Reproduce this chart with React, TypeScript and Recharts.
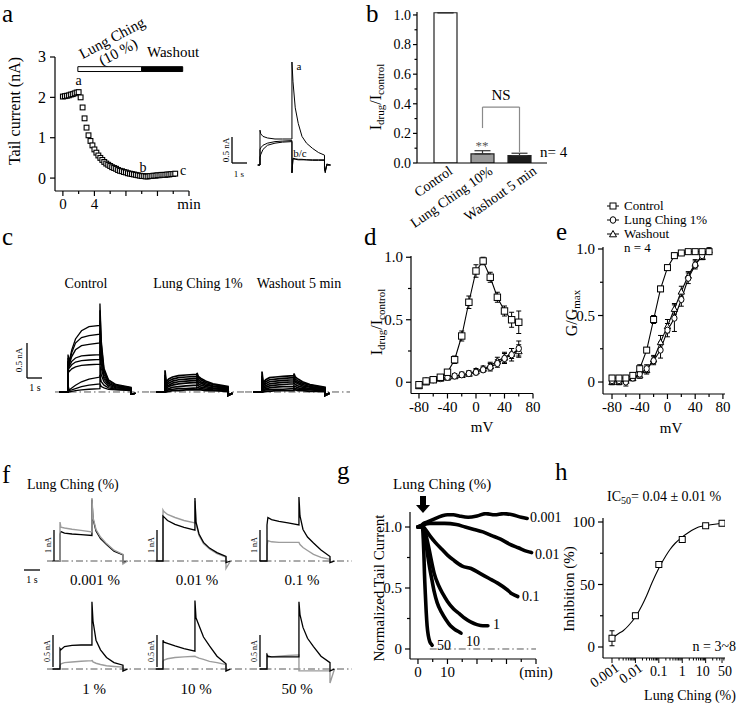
import React from 'react';
import {
  ComposedChart, LineChart, BarChart, Line, Bar, Cell, XAxis, YAxis,
  ErrorBar, ReferenceLine, ReferenceArea,
} from 'recharts';

const SERIF = "'Liberation Serif', 'Times New Roman', serif";
const GRAY = '#9c9c9c';

// ---------- Panel a : tail current time course ----------
const A_T = [0,0.25,0.5,0.75,1,1.25,1.5,1.75,2,2.25,2.5,2.75,3,3.25,3.5,3.75,4,4.25,4.5,4.75,5,5.25,5.5,5.75,6,6.25,6.5,6.75,7,7.25,7.5,7.75,8,8.25,8.5,8.75,9,9.25,9.5,9.75,10,10.25,10.5,10.75,11,11.25,11.5,11.75,12,12.25,12.5,12.75,13,13.25,13.5,13.75,14,14.25];
const A_I = [2.02,2.03,2.04,2.05,2.07,2.08,2.1,2.12,2.13,2.0,1.75,1.48,1.25,1.06,0.92,0.81,0.71,0.63,0.56,0.5,0.45,0.4,0.36,0.33,0.3,0.27,0.25,0.23,0.2,0.18,0.17,0.15,0.14,0.12,0.11,0.1,0.09,0.08,0.07,0.06,0.05,0.05,0.04,0.04,0.05,0.05,0.06,0.06,0.07,0.07,0.08,0.08,0.08,0.09,0.09,0.1,0.1,0.11];
const A_DRUG = [
  { from: 1.9, to: 10, fill: '#fff' },
  { from: 10, to: 15.2, fill: '#000' },
];
// inset traces (s, nA)
const AI_T = [-0.15,0,0,0.05,0.2,0.5,1.0,1.5,2.13,2.13,2.2,2.35,2.55,2.8,3.1,3.5,3.9,4.3,4.3,4.35,4.45,4.7];
const AI_A = [0,0,0.67,0.6,0.55,0.52,0.5,0.5,0.5,1.98,1.6,1.1,0.8,0.55,0.42,0.32,0.24,0.19,-0.05,-0.15,0.02,0];
const AI_B = [0,0,0.15,0.2,0.3,0.38,0.42,0.44,0.45,-0.15,0.12,0.11,0.1,0.1,0.1,0.09,0.09,0.09,-0.05,-0.12,0,0];
const AI_C = [0,0,0.3,0.33,0.38,0.42,0.45,0.46,0.47,-0.15,0.13,0.12,0.11,0.11,0.1,0.1,0.1,0.1,-0.05,-0.12,0,0];

// ---------- Panel b : bars ----------
const B_CAT = ['Control', 'Lung Ching 10%', 'Washout 5 min'];
const B_VAL = [1.015, 0.061, 0.05];
const B_ERR = [0, 0.022, 0.016];
const B_FILL = ['#ffffff', '#9a9a9a', '#1c1c1c'];
const B_BRACKET = [
  { x: 'Lung Ching 10%', y: 0.236 },
  { x: 'Lung Ching 10%', y: 0.378 },
  { x: 'Washout 5 min', y: 0.378 },
  { x: 'Washout 5 min', y: 0.074 },
];

// ---------- Panel c : current families ----------
const C_T = [-0.6,0,0,0.08,0.25,0.5,0.9,1.4,2.13,2.13,2.22,2.4,2.7,3.2,4.2,4.2,4.5];
const C_CTL = [
  [0,0,0.55,0.45,0.62,0.78,0.9,0.96,0.98,1.3,0.75,0.35,0.18,0.11,0.07,-0.03,-0.02],
  [0,0,0.5,0.42,0.58,0.72,0.8,0.83,0.85,1.2,0.7,0.32,0.17,0.1,0.06,-0.03,-0.02],
  [0,0,0.45,0.4,0.52,0.62,0.68,0.7,0.72,1.05,0.6,0.3,0.15,0.09,0.06,-0.03,-0.02],
  [0,0,0.45,0.38,0.45,0.5,0.53,0.54,0.55,0.9,0.5,0.26,0.13,0.08,0.05,-0.03,-0.02],
  [0,0,0.4,0.35,0.4,0.44,0.46,0.47,0.48,0.75,0.42,0.22,0.12,0.07,0.05,-0.03,-0.02],
  [0,0,0.35,0.3,0.34,0.37,0.39,0.4,0.41,0.6,0.35,0.19,0.1,0.06,0.04,-0.03,-0.02],
  [0,0,0.1,0.03,0.06,0.1,0.15,0.19,0.22,0.4,0.25,0.15,0.08,0.05,0.03,-0.03,-0.02],
  [0,0,0.05,0.02,0.03,0.05,0.08,0.1,0.12,0.25,0.15,0.1,0.06,0.04,0.03,-0.03,-0.02],
  [0,0,0.02,0,0.01,0.02,0.03,0.04,0.05,0.12,0.08,0.06,0.04,0.03,0.02,-0.03,-0.02],
];
const C_LC = [
  [0,0,0.32,0.15,0.19,0.22,0.24,0.25,0.26,0.28,0.23,0.2,0.16,0.12,0.08,-0.05,-0.02],
  [0,0,0.25,0.12,0.16,0.19,0.21,0.22,0.23,0.25,0.21,0.18,0.14,0.11,0.07,-0.05,-0.02],
  [0,0,0.2,0.1,0.13,0.16,0.18,0.19,0.2,0.22,0.18,0.15,0.12,0.09,0.06,-0.05,-0.02],
  [0,0,0.15,0.08,0.1,0.13,0.15,0.16,0.17,0.19,0.15,0.13,0.1,0.08,0.05,-0.05,-0.02],
  [0,0,0.12,0.06,0.08,0.1,0.12,0.13,0.14,0.15,0.12,0.1,0.08,0.06,0.04,-0.05,-0.02],
  [0,0,0.08,0.04,0.05,0.07,0.08,0.09,0.1,0.11,0.09,0.07,0.06,0.05,0.03,-0.05,-0.02],
  [0,0,0.05,0.02,0.03,0.04,0.05,0.05,0.06,0.07,0.06,0.05,0.04,0.03,0.02,-0.05,-0.02],
  [0,0,0.02,0,0.01,0.02,0.02,0.03,0.03,0.04,0.03,0.03,0.02,0.02,0.01,-0.05,-0.02],
];
const C_WO = [
  [0,0,0.3,0.14,0.18,0.21,0.22,0.23,0.24,0.27,0.22,0.19,0.15,0.11,0.07,-0.05,-0.02],
  [0,0,0.24,0.11,0.15,0.18,0.19,0.2,0.21,0.23,0.19,0.16,0.13,0.1,0.06,-0.05,-0.02],
  [0,0,0.19,0.09,0.12,0.15,0.16,0.17,0.18,0.2,0.16,0.14,0.11,0.08,0.05,-0.05,-0.02],
  [0,0,0.14,0.07,0.09,0.12,0.13,0.14,0.15,0.17,0.14,0.12,0.09,0.07,0.05,-0.05,-0.02],
  [0,0,0.11,0.05,0.07,0.09,0.1,0.11,0.12,0.13,0.11,0.09,0.07,0.05,0.04,-0.05,-0.02],
  [0,0,0.07,0.03,0.05,0.06,0.07,0.08,0.08,0.09,0.08,0.06,0.05,0.04,0.03,-0.05,-0.02],
  [0,0,0.04,0.02,0.03,0.03,0.04,0.04,0.05,0.06,0.05,0.04,0.03,0.03,0.02,-0.05,-0.02],
  [0,0,0.02,0,0.01,0.01,0.02,0.02,0.02,0.03,0.03,0.02,0.02,0.01,0.01,-0.05,-0.02],
];

// ---------- Panel d : I-V ----------
const D_V = [-80,-70,-60,-50,-40,-30,-20,-10,0,10,20,30,40,50,60];
const D_CTL = [-0.02,0.01,0.02,0.04,0.08,0.18,0.37,0.64,0.89,0.97,0.84,0.68,0.57,0.5,0.48];
const D_CTL_E = [0.02,0.02,0.02,0.02,0.02,0.03,0.04,0.05,0.05,0.03,0.04,0.04,0.04,0.06,0.09];
const D_LC = [-0.02,0.01,0.02,0.03,0.04,0.05,0.06,0.07,0.08,0.1,0.12,0.15,0.19,0.22,0.27];
const D_LC_E = [0.02,0.01,0.01,0.01,0.02,0.02,0.02,0.02,0.02,0.02,0.03,0.03,0.04,0.05,0.06];
const D_WO = [-0.03,0,0.02,0.03,0.04,0.05,0.06,0.07,0.09,0.11,0.13,0.17,0.2,0.23,0.25];
const D_WO_E = [0.02,0.01,0.01,0.01,0.02,0.02,0.02,0.02,0.02,0.02,0.03,0.03,0.04,0.04,0.05];

// ---------- Panel e : activation ----------
const E_V = [-80,-70,-60,-50,-40,-30,-20,-10,0,10,20,30,40,50,60];
const E_CTL = [0.03,0.03,0.03,0.05,0.1,0.24,0.47,0.7,0.86,0.95,0.97,0.98,0.98,0.98,0.98];
const E_CTL_E = [0.02,0.02,0.02,0.02,0.03,0.02,0.03,0.02,0.02,0.02,0.01,0.01,0.01,0.01,0.01];
const E_LC = [0.01,0.01,0,0.03,0.06,0.1,0.16,0.24,0.39,0.48,0.62,0.78,0.88,0.95,0.98];
const E_LC_E = [0.02,0.02,0.03,0.02,0.03,0.03,0.03,0.06,0.05,0.1,0.05,0.04,0.03,0.02,0.02];
const E_WO = [0,0,0.01,0.03,0.05,0.09,0.17,0.3,0.42,0.55,0.68,0.8,0.89,0.94,0.99];
const E_WO_E = [0.02,0.02,0.02,0.02,0.02,0.03,0.03,0.05,0.05,0.04,0.04,0.03,0.03,0.02,0.02];

// ---------- Panel f : concentration traces ----------
const F_T = [-0.5,0,0,0.06,0.3,0.8,1.4,2.13,2.13,2.2,2.4,2.7,3.1,3.6,4.2,4.2,4.5];
const F_LABELS = ['0.001 %', '0.01 %', '0.1 %', '1 %', '10 %', '50 %'];
const F_BLACK = [
  [0,0,0.9,0.98,0.93,0.9,0.88,0.85,2.05,1.4,1.0,0.75,0.55,0.33,0.2,-0.05,0],
  [0,0,1.5,1.47,1.35,1.22,1.12,1.03,2.1,1.3,0.9,0.62,0.43,0.28,0.15,-0.05,0],
  [0,0,1.2,1.45,1.38,1.32,1.27,1.2,2.13,1.5,1.05,0.8,0.6,0.37,0.15,-0.05,0],
  [0,0,0.32,0.3,0.35,0.37,0.375,0.375,1.05,0.75,0.45,0.3,0.18,0.1,0.06,-0.03,0],
  [0,0,0.45,0.42,0.4,0.36,0.32,0.28,1.07,0.8,0.68,0.5,0.36,0.2,0.08,-0.03,0],
  [0,0,0.22,0.2,0.19,0.19,0.19,0.19,1.05,0.85,0.65,0.48,0.35,0.2,0.1,-0.03,0],
];
const F_GRAY = [
  [0,0,1.3,1.13,1.1,1.06,1.02,0.97,2.1,1.45,1.05,0.8,0.58,0.36,0.22,-0.1,0],
  [0,0,1.7,1.65,1.55,1.45,1.35,1.27,2.0,1.25,0.85,0.58,0.4,0.25,0.13,-0.25,0],
  [0,0,0.5,0.68,0.64,0.62,0.62,0.62,0.62,0.55,0.45,0.35,0.22,0.12,0.06,-0.05,0],
  [0,0,0.05,0.08,0.1,0.11,0.12,0.13,0.14,0.11,0.09,0.07,0.05,0.04,0.03,-0.03,0],
  [0,0,0.12,0.14,0.16,0.18,0.19,0.2,0.2,0.19,0.17,0.15,0.12,0.1,0.07,-0.03,0],
  [0,0,0.25,0.18,0.19,0.2,0.21,0.22,-0.03,-0.03,-0.03,-0.03,-0.03,-0.03,-0.03,-0.22,0],
];

// ---------- Panel g : time course per concentration ----------
const G_SERIES = [
  { label: '0.001', t: [0,1,2,3,5,8,10,12,14,17,20,23,26,29,32,35,37], v: [1.0,1.01,1.03,1.04,1.06,1.09,1.1,1.1,1.09,1.08,1.09,1.11,1.1,1.11,1.1,1.08,1.07] },
  { label: '0.01', t: [0,2,4,6,9,13,16,19,22,25,28,31,34,37,38.5], v: [1.0,1.02,1.03,1.03,1.03,1.02,1.0,0.98,0.96,0.93,0.9,0.86,0.83,0.8,0.79] },
  { label: '0.1', t: [0,1.5,2.5,4,6,8,10,12,15,18,21,24,27,30,32,33.8], v: [1.0,1.01,0.98,0.93,0.87,0.82,0.77,0.73,0.68,0.66,0.62,0.58,0.54,0.49,0.45,0.43] },
  { label: '1', t: [0,1.5,2.5,3.5,4.5,5.5,7,8.5,10,12,14,16,18,20,22,23.7], v: [1.0,1.0,0.95,0.85,0.73,0.62,0.52,0.45,0.39,0.33,0.29,0.25,0.22,0.2,0.19,0.19] },
  { label: '10', t: [0,1.5,2.2,2.8,3.4,4,4.7,5.5,6.5,8,9.5,11,12.5,14,14.6], v: [1.0,1.0,0.95,0.85,0.75,0.66,0.57,0.47,0.38,0.3,0.24,0.19,0.16,0.14,0.13] },
  { label: '50', t: [0,1.5,1.8,2.0,2.2,2.5,2.8,3.1,3.5,4,4.5,4.8], v: [1.0,1.0,0.9,0.78,0.62,0.45,0.3,0.19,0.11,0.06,0.04,0.03] },
];

// ---------- Panel h : concentration-response ----------
const H_C = [0.001, 0.01, 0.1, 1, 10, 50];
const H_INH = [7, 25, 66, 86, 97, 99];
const H_ERR = [6, 2, 2, 2, 1, 2];
const H_FIT_C = [0.0012,0.002,0.003,0.005,0.01,0.02,0.03,0.05,0.1,0.2,0.3,0.5,1,2,3,5,10,20,50];
const H_FIT = [8,11,13,17,24,34,41,51,63,73,78,83,88,92,94,96,97,98,99];

// ---------- helpers ----------
function frame(x0: number, y0: number, x1: number, y1: number, yw = 0, xh = 0, mt = 0, mr = 0) {
  return {
    style: { position: 'absolute' as const, left: x0 - yw, top: y0 - mt },
    width: yw + (x1 - x0) + mr,
    height: mt + (y1 - y0) + xh,
    margin: { top: mt, right: mr, bottom: 0, left: 0 },
  };
}

const near = (a: number, b: number) => Math.abs(a - b) <= 1e-9 * Math.max(1e-6, Math.abs(b));

const mkTick = (side: 'left' | 'bottom', major: number[], fmt: (v: number) => string, o: any = {}) => (p: any) => {
  const v = Number(p.payload.value);
  const isM = major.some((m) => near(v, m));
  const len = o.len ?? 5;
  const L = isM ? len : (o.mlen ?? 3);
  const lab = isM ? fmt(v) : '';
  const fs = o.fs ?? 14;
  const gap = o.gap ?? 3;
  if (side === 'left') {
    return (
      <g>
        <line x1={p.x} x2={p.x - L} y1={p.y} y2={p.y} stroke="#000" strokeWidth={1.2} />
        {lab !== '' && (
          <text x={p.x - len - gap} y={p.y} dy="0.34em" textAnchor="end" fontSize={fs} fontFamily={SERIF} fill="#000">{lab}</text>
        )}
      </g>
    );
  }
  return (
    <g>
      <line x1={p.x} x2={p.x} y1={p.y} y2={p.y + L} stroke="#000" strokeWidth={1.2} />
      {lab !== '' && (
        <text x={p.x} y={p.y + len + gap} dy="0.76em" textAnchor="middle" fontSize={fs} fontFamily={SERIF} fill="#000">{lab}</text>
      )}
    </g>
  );
};

const AX: any = {
  tickSize: 0,
  tickMargin: 0,
  tickLine: false,
  axisLine: { stroke: '#000', strokeWidth: 1.2 },
  interval: 0,
  allowDataOverflow: true,
};

const sqDot = (s: number, sw = 1) => (p: any) =>
  p.cx == null || p.cy == null || p.value == null ? <g key={p.index} /> :
  <rect key={p.index} x={p.cx - s} y={p.cy - s} width={2 * s} height={2 * s} fill="#fff" stroke="#000" strokeWidth={sw} />;
const ciDot = (s: number, sw = 1) => (p: any) =>
  p.cx == null || p.cy == null ? <g key={p.index} /> :
  <ellipse key={p.index} cx={p.cx} cy={p.cy} rx={s * 0.85} ry={s} fill="#fff" stroke="#000" strokeWidth={sw} />;
const trDot = (s: number, sw = 1) => (p: any) =>
  p.cx == null || p.cy == null ? <g key={p.index} /> :
  <polygon key={p.index} points={`${p.cx},${p.cy - s} ${p.cx - s},${p.cy + s * 0.8} ${p.cx + s},${p.cy + s * 0.8}`} fill="#fff" stroke="#000" strokeWidth={sw} />;

const rowsFrom = (t: number[], cols: Record<string, number[]>) =>
  t.map((tt, i) => {
    const r: any = { t: tt };
    Object.keys(cols).forEach((k) => { r[k] = cols[k][i]; });
    return r;
  });

function TraceChart({ f, xDomain, yDomain, rows, series, baseline }: any) {
  return (
    <div style={f.style}>
      <LineChart width={f.width} height={f.height} margin={f.margin} data={rows}>
        <XAxis type="number" dataKey="t" domain={xDomain} hide allowDataOverflow height={0} />
        <YAxis type="number" domain={yDomain} hide allowDataOverflow width={0} />
        {baseline && <ReferenceLine y={0} stroke="#444" strokeWidth={0.9} strokeDasharray="7 3 1.5 3" />}
        {series.map((s: any) => (
          <Line key={s.key} dataKey={s.key} stroke={s.color} strokeWidth={s.w ?? 1} dot={false}
            isAnimationActive={false} type="linear" />
        ))}
      </LineChart>
    </div>
  );
}

// ---------- Panels ----------
function PanelA() {
  const f = frame(55, 57, 189, 191, 42, 30, 20, 18);
  const rows = A_T.map((t, i) => ({ t, v: A_I[i] }));
  return (
    <div style={f.style}>
      <ComposedChart width={f.width} height={f.height} margin={f.margin} data={rows}>
        <XAxis {...AX} type="number" dataKey="t" domain={[-1, 16]} ticks={[0, 2, 4, 6, 8, 10, 12, 14, 16]}
          tick={mkTick('bottom', [0, 4, 8, 12, 16], (v) => (v === 0 ? '0' : v === 4 ? '4' : v === 16 ? 'min' : ''), { fs: 15, len: 5, mlen: 3, gap: 2 })} height={30} />
        <YAxis {...AX} type="number" domain={[-0.32, 3]} ticks={[0, 1, 2, 3]}
          tick={mkTick('left', [0, 1, 2, 3], (v) => String(v), { fs: 16, len: 5, gap: 4 })} width={42} />
        {A_DRUG.map((d, i) => (
          <ReferenceArea key={i} x1={d.from} x2={d.to} y1={2.64} y2={2.76} fill={d.fill} fillOpacity={1}
            stroke="#000" strokeWidth={1} ifOverflow="visible" />
        ))}
        <Line dataKey="v" stroke="none" dot={sqDot(2.4, 1.1)} isAnimationActive={false} />
      </ComposedChart>
    </div>
  );
}

function PanelAInset() {
  const f = frame(255, 55, 335, 180);
  const rows = rowsFrom(AI_T, { a: AI_A, b: AI_B, c: AI_C });
  return (
    <TraceChart f={f} xDomain={[-0.333, 5.0]} yDomain={[-0.288, 2.115]} rows={rows}
      series={[{ key: 'b', color: '#000' }, { key: 'c', color: '#000' }, { key: 'a', color: '#000' }]} />
  );
}

function PanelB() {
  const f = frame(417, 12, 547, 163, 37, 75, 5, 5);
  const rows = B_CAT.map((name, i) => ({ name, v: B_VAL[i], e: [0, B_ERR[i]] }));
  const yt = [0, 0.1, 0.2, 0.3, 0.4, 0.5, 0.6, 0.7, 0.8, 0.9, 1.0];
  const off = [8, 11, 18];
  const xTick = (p: any) => {
    const tx = p.x + off[p.index];
    const ty = p.y + 10;
    return (
      <text x={tx} y={ty} textAnchor="end" fontSize={14} fontFamily={SERIF} fill="#000"
        transform={`rotate(-35 ${tx} ${ty})`}>{p.payload.value}</text>
    );
  };
  return (
    <div style={f.style}>
      <BarChart width={f.width} height={f.height} margin={f.margin} data={rows}>
        <XAxis {...AX} allowDataOverflow={false} dataKey="name" type="category" padding={{ left: 10, right: 9 }} tick={xTick} height={75} />
        <YAxis {...AX} type="number" domain={[0, 1.02]} ticks={yt}
          tick={mkTick('left', [0, 0.2, 0.4, 0.6, 0.8, 1.0], (v) => v.toFixed(1), { fs: 14, len: 4, mlen: 2.5, gap: 2 })} width={37} />
        <Bar dataKey="v" barSize={23} stroke="#222" strokeWidth={1.2} isAnimationActive={false}>
          {rows.map((r, i) => <Cell key={i} fill={B_FILL[i]} />)}
          <ErrorBar dataKey="e" width={8} stroke="#333" strokeWidth={1.2} direction="y" />
        </Bar>
        {B_BRACKET.slice(0, 3).map((p, i) => (
          <ReferenceLine key={i} segment={[B_BRACKET[i], B_BRACKET[i + 1]]} stroke="#8a8a8a" strokeWidth={1.2} />
        ))}
      </BarChart>
    </div>
  );
}

function PanelC() {
  const yD = [-0.118, 1.426];
  const mk = (arr: number[][], p: string) => {
    const cols: Record<string, number[]> = {};
    arr.forEach((a, i) => { cols[p + i] = a; });
    return rowsFrom(C_T, cols);
  };
  const ser = (arr: number[][], p: string, w: number) => arr.map((_, i) => ({ key: p + i, color: '#000', w }));
  return (
    <>
      <TraceChart f={frame(55, 295, 150, 400)} xDomain={[-0.867, 5.467]} yDomain={yD} rows={mk(C_CTL, 'c')} series={ser(C_CTL, 'c', 1.3)} baseline />
      <TraceChart f={frame(150, 295, 245, 400)} xDomain={[-1.0, 5.333]} yDomain={yD} rows={mk(C_LC, 'l')} series={ser(C_LC, 'l', 1.7)} baseline />
      <TraceChart f={frame(245, 295, 350, 400)} xDomain={[-1.133, 5.867]} yDomain={yD} rows={mk(C_WO, 'w')} series={ser(C_WO, 'w', 1.7)} baseline />
    </>
  );
}

function PanelD() {
  const f = frame(411, 255.75, 533, 393.25, 36, 30, 8, 12);
  const rows = D_V.map((v, i) => ({ v, ctl: D_CTL[i], ctlE: D_CTL_E[i], lc: D_LC[i], lcE: D_LC_E[i], wo: D_WO[i], woE: D_WO_E[i] }));
  return (
    <div style={f.style}>
      <LineChart width={f.width} height={f.height} margin={f.margin} data={rows}>
        <XAxis {...AX} type="number" dataKey="v" domain={[-91.2, 80]} ticks={[-80, -60, -40, -20, 0, 20, 40, 60, 80]}
          tick={mkTick('bottom', [-80, -40, 0, 40, 80], (v) => String(v), { fs: 15, len: 5, mlen: 3, gap: 2 })} height={30} />
        <YAxis {...AX} type="number" domain={[-0.09, 1.01]} ticks={[0, 0.25, 0.5, 0.75, 1.0]}
          tick={mkTick('left', [0, 0.5, 1.0], (v) => (v === 0 ? '0' : v.toFixed(1)), { fs: 15, len: 5, mlen: 3, gap: 3 })} width={36} />
        <Line dataKey="wo" stroke="#000" strokeWidth={1.1} dot={trDot(3.4)} isAnimationActive={false} type="linear">
          <ErrorBar dataKey="woE" width={2.5} stroke="#000" strokeWidth={1} direction="y" />
        </Line>
        <Line dataKey="lc" stroke="#000" strokeWidth={1.1} dot={ciDot(3.2)} isAnimationActive={false} type="linear">
          <ErrorBar dataKey="lcE" width={2.5} stroke="#000" strokeWidth={1} direction="y" />
        </Line>
        <Line dataKey="ctl" stroke="#000" strokeWidth={1.1} dot={sqDot(3.2)} isAnimationActive={false} type="linear">
          <ErrorBar dataKey="ctlE" width={2.5} stroke="#000" strokeWidth={1} direction="y" />
        </Line>
      </LineChart>
    </div>
  );
}

function PanelE() {
  const f = frame(603, 247, 725, 394, 36, 30, 8, 12);
  const rows = E_V.map((v, i) => ({ v, ctl: E_CTL[i], ctlE: E_CTL_E[i], lc: E_LC[i], lcE: E_LC_E[i], wo: E_WO[i], woE: E_WO_E[i] }));
  return (
    <div style={f.style}>
      <LineChart width={f.width} height={f.height} margin={f.margin} data={rows}>
        <XAxis {...AX} type="number" dataKey="v" domain={[-93, 83]} ticks={[-80, -60, -40, -20, 0, 20, 40, 60, 80]}
          tick={mkTick('bottom', [-80, -40, 0, 40, 80], (v) => String(v), { fs: 15, len: 5, mlen: 3, gap: 2 })} height={30} />
        <YAxis {...AX} type="number" domain={[-0.09, 1.015]} ticks={[0, 0.25, 0.5, 0.75, 1.0]}
          tick={mkTick('left', [0, 0.5, 1.0], (v) => (v === 0 ? '0' : v.toFixed(1)), { fs: 15, len: 5, mlen: 3, gap: 3 })} width={36} />
        <Line dataKey="wo" stroke="#000" strokeWidth={1.1} dot={trDot(3.2)} isAnimationActive={false} type="linear">
          <ErrorBar dataKey="woE" width={2.5} stroke="#000" strokeWidth={1} direction="y" />
        </Line>
        <Line dataKey="lc" stroke="#000" strokeWidth={1.1} dot={ciDot(3.1)} isAnimationActive={false} type="linear">
          <ErrorBar dataKey="lcE" width={2.5} stroke="#000" strokeWidth={1} direction="y" />
        </Line>
        <Line dataKey="ctl" stroke="#000" strokeWidth={1.1} dot={sqDot(3)} isAnimationActive={false} type="linear">
          <ErrorBar dataKey="ctlE" width={2.5} stroke="#000" strokeWidth={1} direction="y" />
        </Line>
      </LineChart>
    </div>
  );
}

function PanelF() {
  const cols = [
    { x0: 47, x1: 148, on: 60 },
    { x0: 148, x1: 250, on: 163 },
    { x0: 250, x1: 352, on: 267 },
  ];
  const rowsY = [
    { y0: 492, y1: 575, base: 561, ppn: 30 },
    { y0: 598, y1: 685, base: 669, ppn: 64 },
  ];
  const pxs = 15;
  const out: any[] = [];
  rowsY.forEach((ry, r) => {
    cols.forEach((c, k) => {
      const i = r * 3 + k;
      const rows = rowsFrom(F_T, { b: F_BLACK[i], g: F_GRAY[i] });
      const xd = [(c.x0 - c.on) / pxs, (c.x1 - c.on) / pxs];
      const yd = [(ry.base - ry.y1) / ry.ppn, (ry.base - ry.y0) / ry.ppn];
      const series = i === 0
        ? [{ key: 'b', color: '#000', w: 1.3 }, { key: 'g', color: GRAY, w: 1.4 }]
        : [{ key: 'g', color: GRAY, w: 1.4 }, { key: 'b', color: '#000', w: 1.3 }];
      out.push(
        <TraceChart key={i} f={frame(c.x0, ry.y0, c.x1, ry.y1)} xDomain={xd} yDomain={yd} rows={rows} series={series} baseline />
      );
    });
  });
  return <>{out}</>;
}

function PanelG() {
  const f = frame(410, 512, 536, 659, 34, 30, 5, 20);
  return (
    <div style={f.style}>
      <LineChart width={f.width} height={f.height} margin={f.margin}>
        <XAxis {...AX} type="number" dataKey="t" domain={[-2.7, 40]} ticks={[0, 5, 10, 15, 20, 25, 30, 35, 40]}
          tick={mkTick('bottom', [0, 10, 20, 30, 40], (v) => (v === 0 ? '0' : v === 10 ? '10' : v === 40 ? '(min)' : ''), { fs: 15, len: 5, mlen: 3, gap: 2 })} height={30} />
        <YAxis {...AX} type="number" domain={[-0.082, 1.123]} ticks={[0, 0.25, 0.5, 0.75, 1.0]}
          tick={mkTick('left', [0, 0.5, 1.0], (v) => (v === 0 ? '0' : v.toFixed(1)), { fs: 15, len: 5, mlen: 3, gap: 3 })} width={34} />
        <ReferenceLine segment={[{ x: 4, y: 0 }, { x: 40, y: 0 }]} stroke="#444" strokeWidth={0.9} strokeDasharray="7 3 1.5 3" />
        {G_SERIES.map((s) => (
          <Line key={s.label} data={s.t.map((t, i) => ({ t, v: s.v[i] }))} dataKey="v" stroke="#000" strokeWidth={3.6}
            strokeLinecap="round" strokeLinejoin="round" dot={false} isAnimationActive={false} type="monotone" />
        ))}
      </LineChart>
    </div>
  );
}

const H_MAJOR = [0.001, 0.01, 0.1, 1, 10, 50];
const H_MAJOR_LABEL = ['0.001', '0.01', '0.1', '1', '10', '50'];
const H_LABEL_DX = [0, 0, 0, 0, -3, 3];
const H_TICKS = [0.001,0.002,0.003,0.004,0.005,0.006,0.007,0.008,0.009,0.01,0.02,0.03,0.04,0.05,0.06,0.07,0.08,0.09,0.1,0.2,0.3,0.4,0.5,0.6,0.7,0.8,0.9,1,2,3,4,5,6,7,8,9,10,20,30,40,50,60];

function PanelH() {
  const f = frame(603, 518, 725, 658, 34, 35, 5, 10);
  const pts = H_C.map((c, i) => ({ c, inh: H_INH[i], err: H_ERR[i] }));
  const fit = H_FIT_C.map((c, i) => ({ c, inh: H_FIT[i] }));
  const hTick = (p: any) => {
    const v = Number(p.payload.value);
    const i = H_MAJOR.findIndex((m) => near(v, m));
    const L = i >= 0 ? 5 : 2.5;
    let lab: any = null;
    if (i >= 0 && i < 2) {
      const tx = p.x + 8, ty = p.y + 12;
      lab = <text x={tx} y={ty} textAnchor="end" fontSize={14} fontFamily={SERIF} fill="#000" transform={`rotate(-35 ${tx} ${ty})`}>{H_MAJOR_LABEL[i]}</text>;
    } else if (i >= 2) {
      lab = <text x={p.x + H_LABEL_DX[i]} y={p.y + 7} dy="0.76em" textAnchor="middle" fontSize={14} fontFamily={SERIF} fill="#000">{H_MAJOR_LABEL[i]}</text>;
    }
    return <g><line x1={p.x} x2={p.x} y1={p.y} y2={p.y + L} stroke="#000" strokeWidth={1} />{lab}</g>;
  };
  return (
    <div style={f.style}>
      <ComposedChart width={f.width} height={f.height} margin={f.margin}>
        <XAxis {...AX} type="number" dataKey="c" scale="log" domain={[0.000413, 67]} ticks={H_TICKS} tick={hTick} height={35} />
        <YAxis {...AX} type="number" dataKey="inh" domain={[-8.8, 103.2]} ticks={[0, 25, 50, 75, 100]}
          tick={mkTick('left', [0, 50, 100], (v) => String(v), { fs: 15, len: 5, mlen: 3, gap: 3 })} width={34} />
        <Line data={fit} dataKey="inh" stroke="#000" strokeWidth={1.1} dot={false} isAnimationActive={false} type="monotone" />
        <Line data={pts} dataKey="inh" stroke="none" dot={sqDot(3)} isAnimationActive={false}>
          <ErrorBar dataKey="err" width={2.5} stroke="#000" strokeWidth={1} direction="y" />
        </Line>
      </ComposedChart>
    </div>
  );
}

// ---------- annotations ----------
const T = ({ x, y, s = 14, a = 'start', r, children, fill = '#000', db, w }: any) => (
  <text x={x} y={y} fontSize={s} textAnchor={a} fontFamily={SERIF} fill={fill} fontWeight={w}
    dominantBaseline={db} transform={r ? `rotate(${r} ${x} ${y})` : undefined}>{children}</text>
);

function SubLabel({ x, y, main1, sub1, main2, sub2, s = 16, ss = 11 }: any) {
  return (
    <text x={x} y={y} fontSize={s} textAnchor="middle" fontFamily={SERIF} fill="#000" transform={`rotate(-90 ${x} ${y})`}>
      {main1}<tspan fontSize={ss} dy={3}>{sub1}</tspan>
      {main2 != null && <tspan dy={-3}>{main2}</tspan>}
      {sub2 != null && <tspan fontSize={ss} dy={3}>{sub2}</tspan>}
    </text>
  );
}

function Overlay() {
  const L = { stroke: '#000', strokeWidth: 1.3 };
  return (
    <svg width={737} height={703} style={{ position: 'absolute', left: 0, top: 0, pointerEvents: 'none', fontFamily: SERIF }}>
      {/* panel letters */}
      <T x={2} y={22} s={25}>a</T>
      <T x={366} y={22} s={25}>b</T>
      <T x={2} y={245} s={25}>c</T>
      <T x={364} y={245} s={25}>d</T>
      <T x={556} y={240} s={25}>e</T>
      <T x={2} y={483} s={25}>f</T>
      <T x={337} y={479} s={25}>g</T>
      <T x={555} y={480} s={25}>h</T>

      {/* a */}
      <T x={19.5} y={111} s={16} a="middle" r={-90}>Tail current (nA)</T>
      <T x={112} y={38} s={15} a="middle" r={-28} db="central">Lung Ching</T>
      <T x={118} y={52} s={15} a="middle" r={-28} db="central">(10 %)</T>
      <T x={147} y={57} s={15}>Washout</T>
      <T x={78.5} y={85} s={14} a="middle">a</T>
      <T x={143} y={172} s={14} a="middle">b</T>
      <T x={183} y={175} s={14} a="middle">c</T>
      <T x={299} y={70} s={11} a="middle">a</T>
      <T x={300} y={157} s={11} a="middle">b/c</T>
      <line x1={232} y1={137} x2={232} y2={163} {...L} />
      <line x1={232} y1={163} x2={247} y2={163} {...L} />
      <T x={229} y={150} s={9} a="middle" r={-90}>0.5 nA</T>
      <T x={239} y={177} s={9} a="middle">1 s</T>

      {/* b */}
      <SubLabel x={381} y={97} main1="I" sub1="drug" main2="/I" sub2="control" />
      <T x={501} y={100} s={15} a="middle">NS</T>
      <T x={482} y={150} s={13} a="middle" fill="#555">**</T>
      <T x={540} y={157} s={15}>n= 4</T>

      {/* c */}
      <T x={86} y={288} s={14} a="middle">Control</T>
      <T x={198} y={288} s={14} a="middle">Lung Ching 1%</T>
      <T x={299} y={288} s={14} a="middle">Washout 5 min</T>
      <line x1={27} y1={343} x2={27} y2={378} {...L} />
      <line x1={27} y1={378} x2={42} y2={378} {...L} />
      <T x={22} y={360} s={9} a="middle" r={-90}>0.5 nA</T>
      <T x={35} y={391} s={10} a="middle">1 s</T>

      {/* d */}
      <SubLabel x={382} y={322} main1="I" sub1="drug" main2="/I" sub2="control" />
      <T x={482} y={432} s={15} a="middle">mV</T>

      {/* e */}
      <SubLabel x={577} y={313} main1="G/G" sub1="max" />
      <T x={671} y={433} s={15} a="middle">mV</T>
      <line x1={607} y1={206} x2={619} y2={206} stroke="#000" strokeWidth={1} />
      <rect x={610} y={203} width={6} height={6} fill="#fff" stroke="#000" />
      <line x1={607} y1={220} x2={619} y2={220} stroke="#000" strokeWidth={1} />
      <ellipse cx={613} cy={220} rx={2.8} ry={3.3} fill="#fff" stroke="#000" />
      <line x1={607} y1={234} x2={619} y2={234} stroke="#000" strokeWidth={1} />
      <polygon points="613,230.5 609.5,236.8 616.5,236.8" fill="#fff" stroke="#000" />
      <T x={624} y={210} s={13}>Control</T>
      <T x={624} y={224} s={13}>Lung Ching 1%</T>
      <T x={624} y={238} s={13}>Washout</T>
      <T x={624} y={252} s={13}>n = 4</T>

      {/* f */}
      <T x={27} y={489} s={14}>Lung Ching (%)</T>
      <T x={95} y={585} s={15} a="middle">{F_LABELS[0]}</T>
      <T x={197} y={585} s={15} a="middle">{F_LABELS[1]}</T>
      <T x={302} y={585} s={15} a="middle">{F_LABELS[2]}</T>
      <T x={94} y={694} s={15} a="middle">{F_LABELS[3]}</T>
      <T x={196} y={694} s={15} a="middle">{F_LABELS[4]}</T>
      <T x={297} y={694} s={15} a="middle">{F_LABELS[5]}</T>
      {[54, 157, 260].map((x) => (
        <g key={'s1' + x}>
          <line x1={x} y1={530} x2={x} y2={561} {...L} />
          <T x={x - 3} y={545} s={8} a="middle" r={-90}>1 nA</T>
        </g>
      ))}
      {[53, 157, 260].map((x) => (
        <g key={'s2' + x}>
          <line x1={x} y1={635} x2={x} y2={667} {...L} />
          <T x={x - 3} y={651} s={8} a="middle" r={-90}>0.5 nA</T>
        </g>
      ))}
      <line x1={24} y1={570} x2={40} y2={570} {...L} />
      <T x={32} y={583} s={10} a="middle">1 s</T>

      {/* g */}
      <T x={393} y={489} s={15}>Lung Ching (%)</T>
      <rect x={420} y={496} width={6} height={9} fill="#000" />
      <polygon points="416,505 430,505 423,513" fill="#000" />
      <T x={530} y={522} s={14}>0.001</T>
      <T x={535} y={559} s={14}>0.01</T>
      <T x={522} y={601} s={14}>0.1</T>
      <T x={493} y={629} s={14}>1</T>
      <T x={466} y={646} s={14}>10</T>
      <T x={437} y={650} s={14}>50</T>
      <T x={384} y={588} s={15} a="middle" r={-90}>Normalized Tail Current</T>

      {/* h */}
      <text x={607} y={501} fontSize={14} fontFamily={SERIF} fill="#000">
        IC<tspan fontSize={10} dy={3}>50</tspan><tspan dy={-3}>= 0.04 ± 0.01 %</tspan>
      </text>
      <T x={574} y={589} s={15} a="middle" r={-90}>Inhibition (%)</T>
      <T x={690} y={700} s={14} a="middle">Lung Ching (%)</T>
      <T x={736} y={651} s={14} a="end">n = 3~8</T>
    </svg>
  );
}

export default function App() {
  return (
    <div style={{ position: 'absolute', left: 0, top: 0, width: 737, height: 703, background: '#fff', overflow: 'hidden', fontFamily: SERIF }}>
      <PanelA />
      <PanelAInset />
      <PanelB />
      <PanelC />
      <PanelD />
      <PanelE />
      <PanelF />
      <PanelG />
      <PanelH />
      <Overlay />
    </div>
  );
}
